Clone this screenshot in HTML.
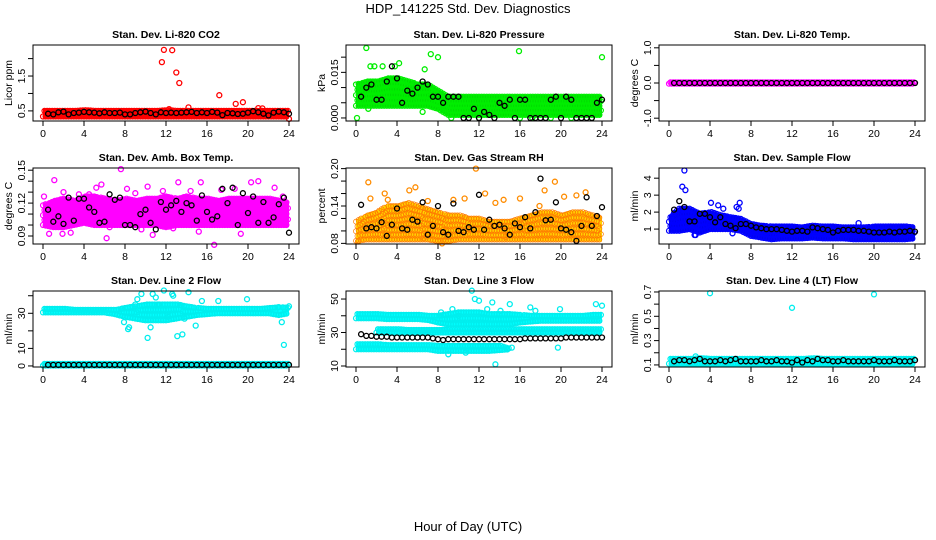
<!DOCTYPE html>
<html><head><meta charset="utf-8"><style>
body{margin:0;background:#fff}
svg{display:block;font-family:"Liberation Sans",sans-serif}
</style></head><body>
<svg id="chart" width="936" height="540" viewBox="0 0 936 540" xmlns="http://www.w3.org/2000/svg">
<text x="468" y="13" text-anchor="middle" font-size="13">HDP_141225  Std. Dev. Diagnostics</text>
<text x="468" y="531" text-anchor="middle" font-size="13">Hour of Day (UTC)</text>
</svg>
<script>
const hours = [0,1,2,3,4,5,6,7,8,9,10,11,12,13,14,15,16,17,18,19,20,21,22,23,24];
const blackX = [0.5,1,1.5,2,2.5,3,3.5,4,4.5,5,5.5,6,6.5,7,7.5,8,8.5,9,9.5,10,10.5,11,11.5,12,12.5,13,13.5,14,14.5,15,15.5,16,16.5,17,17.5,18,18.5,19,19.5,20,20.5,21,21.5,22,22.5,23,23.5,24];

// Panel 1: CO2
const co2Lo = [0.34,0.34,0.34,0.34,0.34,0.34,0.34,0.34,0.34,0.34,0.34,0.34,0.34,0.34,0.34,0.34,0.34,0.34,0.34,0.34,0.34,0.34,0.34,0.34,0.34];
const co2Hi = [0.5,0.5,0.5,0.5,0.52,0.5,0.5,0.5,0.5,0.5,0.5,0.5,0.52,0.5,0.5,0.5,0.5,0.5,0.5,0.5,0.5,0.5,0.5,0.5,0.5];
const co2OutX = [11.6,11.8,12.6,13.0,13.3,17.2,18.8,19.5,14.2,12.3,21.0,21.4,24.0];
const co2OutY = [1.9,2.25,2.24,1.6,1.3,0.95,0.7,0.75,0.6,0.55,0.58,0.57,0.27];
const co2Black = [0.42,0.40,0.46,0.48,0.40,0.44,0.45,0.47,0.46,0.45,0.43,0.46,0.44,0.44,0.45,0.40,0.40,0.44,0.46,0.48,0.44,0.40,0.46,0.44,0.45,0.44,0.45,0.46,0.47,0.44,0.46,0.44,0.47,0.45,0.38,0.44,0.43,0.41,0.42,0.45,0.49,0.46,0.42,0.37,0.45,0.48,0.46,0.42];

// Panel 2: Pressure
const prLo = [0.004,0.004,0.004,0.004,0.004,0.004,0.004,0.004,0.003,0.001,0.001,0.001,0.001,0.001,0.001,0.001,0.001,0.001,0.001,0.001,0.001,0.001,0.001,0.001,0.001];
const prHi = [0.011,0.012,0.012,0.013,0.013,0.012,0.011,0.011,0.009,0.007,0.007,0.007,0.007,0.007,0.007,0.007,0.007,0.007,0.007,0.007,0.007,0.007,0.007,0.007,0.007];
const prOutX = [1.0,1.4,1.8,2.6,4.2,3.8,7.3,8.0,15.9,24.0,6.7,1.2,6.5,0.1,9.3,12,16,17.2,19,21,23];
const prOutY = [0.023,0.017,0.017,0.017,0.018,0.017,0.021,0.020,0.022,0.020,0.016,0.003,0.002,0.0,0.0,0.0,0.0,0.0,0.0,0.0,0.0];
const prBlack = [0.007,0.010,0.011,0.006,0.006,0.012,0.017,0.013,0.005,0.009,0.008,0.010,0.012,0.011,0.007,0.007,0.005,0.007,0.007,0.007,0.0,0.0,0.003,0.0,0.002,0.001,0.0,0.005,0.004,0.006,0.0,0.006,0.006,0.0,0.0,0.0,0.0,0.006,0.007,0.0,0.007,0.006,0.0,0.0,0.0,0.0,0.005,0.006];

// Panel 3: Li-820 Temp
const tmpLo = [-0.02,-0.02,-0.02,-0.02,-0.02,-0.02,-0.02,-0.02,-0.02,-0.02,-0.02,-0.02,-0.02,-0.02,-0.02,-0.02,-0.02,-0.02,-0.02,-0.02,-0.02,-0.02,-0.02,-0.02,-0.02];
const tmpHi = [0.02,0.02,0.02,0.02,0.02,0.02,0.02,0.02,0.02,0.02,0.02,0.02,0.02,0.02,0.02,0.02,0.02,0.02,0.02,0.02,0.02,0.02,0.02,0.02,0.02];
const tmpBlack = [0,0,0,0,0,0,0,0,0,0,0,0,0,0,0,0,0,0,0,0,0,0,0,0,0,0,0,0,0,0,0,0,0,0,0,0,0,0,0,0,0,0,0,0,0,0,0,0];

// Panel 4: Amb Box Temp
const ambLo = [0.100,0.098,0.098,0.100,0.102,0.100,0.100,0.100,0.100,0.100,0.100,0.100,0.098,0.100,0.100,0.100,0.100,0.100,0.100,0.100,0.100,0.100,0.100,0.100,0.100];
const ambHi = [0.118,0.122,0.124,0.122,0.126,0.126,0.124,0.122,0.124,0.122,0.124,0.124,0.126,0.124,0.126,0.124,0.124,0.122,0.124,0.124,0.124,0.124,0.124,0.122,0.120];
const ambOutX = [0.1,1.1,0.6,2.0,2.7,3.5,5.2,5.7,6.2,7.6,8.2,9.0,10.2,11.7,13.2,14.4,15.4,15.2,16.7,17.4,19.3,20.3,21.0,22.6,23.4,1.9,4.5,9.6,12.7,18.7,6.5,10.7];
const ambOutY = [0.126,0.141,0.092,0.130,0.093,0.128,0.134,0.137,0.088,0.151,0.133,0.129,0.135,0.131,0.139,0.131,0.139,0.094,0.082,0.132,0.092,0.139,0.140,0.134,0.126,0.092,0.128,0.096,0.097,0.133,0.098,0.091];
const ambBlack = [0.114,0.103,0.108,0.101,0.125,0.104,0.124,0.124,0.116,0.112,0.102,0.103,0.128,0.123,0.125,0.100,0.100,0.098,0.110,0.114,0.102,0.096,0.121,0.114,0.118,0.122,0.112,0.120,0.118,0.104,0.127,0.112,0.105,0.108,0.133,0.120,0.134,0.100,0.129,0.111,0.126,0.102,0.121,0.102,0.107,0.119,0.125,0.093];

// Panel 5: Gas Stream RH
const rhLo = [0.084,0.086,0.086,0.086,0.086,0.086,0.086,0.086,0.084,0.084,0.086,0.086,0.086,0.086,0.086,0.086,0.086,0.086,0.086,0.086,0.086,0.086,0.086,0.086,0.086];
const rhHi = [0.115,0.125,0.13,0.14,0.14,0.145,0.14,0.135,0.13,0.125,0.125,0.12,0.12,0.115,0.115,0.115,0.12,0.125,0.13,0.13,0.125,0.13,0.13,0.125,0.12];
const rhOutX = [0.2,1.2,1.4,3.1,5.2,5.8,7.0,8.4,9.5,10.6,11.7,12.6,13.6,14.4,16.0,17.9,18.4,19.4,20.3,21.5,22.4,14.6,6.6,2.8];
const rhOutY = [0.083,0.178,0.152,0.150,0.165,0.170,0.148,0.080,0.150,0.152,0.200,0.160,0.145,0.150,0.152,0.140,0.165,0.179,0.155,0.157,0.162,0.090,0.088,0.160];
const rhBlack = [0.142,0.104,0.106,0.104,0.114,0.092,0.110,0.136,0.104,0.102,0.118,0.115,0.146,0.094,0.108,0.140,0.098,0.094,0.144,0.100,0.098,0.106,0.102,0.158,0.102,0.118,0.108,0.110,0.104,0.094,0.112,0.106,0.122,0.104,0.130,0.184,0.117,0.118,0.146,0.104,0.102,0.098,0.084,0.108,0.154,0.108,0.124,0.138];

// Panel 6: Sample Flow
const sfLo = [0.9,0.9,1.0,0.8,1.0,1.0,1.0,0.9,0.6,0.5,0.4,0.45,0.45,0.45,0.5,0.45,0.45,0.45,0.4,0.4,0.4,0.4,0.4,0.4,0.45];
const sfHi = [1.7,2.2,2.2,1.9,2.0,1.8,1.7,1.6,1.3,1.2,1.15,1.15,1.15,1.1,1.2,1.15,1.15,1.1,1.1,1.1,1.15,1.15,1.15,1.15,1.1];
const sfOutX = [0.5,1.3,1.6,1.5,2.6,4.1,4.8,5.3,6.6,6.9,6.2,18.5,2.5,6.8];
const sfOutY = [0.95,3.5,3.3,4.45,0.65,2.55,2.4,2.2,2.3,2.55,0.75,1.35,0.65,2.2];
const sfBlack = [2.15,2.65,2.3,1.45,1.45,1.9,1.9,1.7,1.4,1.7,1.3,1.2,1.05,1.3,1.3,1.2,1.1,1.05,1.0,1.0,1.0,0.95,0.9,0.85,0.9,0.9,0.85,1.1,1.05,1.0,0.95,0.8,0.9,0.95,0.95,0.95,0.9,0.9,0.85,0.8,0.8,0.8,0.85,0.8,0.85,0.85,0.9,0.85];

// Panel 7: Line 2 Flow
const l2Lo = [30.5,30.5,30.5,30.5,30.5,30.5,30.5,29.5,28,27,26,26,26,27,28,29,29.5,30,30,30,30,30,30,29,30];
const l2Hi = [32.5,32.5,32.5,32,32,32,32,32,33,34,35,35,35,35,34,33,32.5,32.5,32.5,32.5,32.5,32.5,33,33.5,33];
const l2LowLo = [0.2,0.2,0.2,0.2,0.2,0.2,0.2,0.2,0.2,0.2,0.2,0.2,0.2,0.2,0.2,0.2,0.2,0.2,0.2,0.2,0.2,0.2,0.2,0.2,0.2];
const l2LowHi = [1.2,1.2,1.2,1.2,1.2,1.2,1.2,1.2,1.2,1.2,1.2,1.2,1.2,1.2,1.2,1.2,1.2,1.2,1.2,1.2,1.2,1.2,1.2,1.2,1.2];
const l2OutX = [7.9,8.3,9.2,9.6,10.2,10.5,10.7,11.0,11.8,12.2,12.7,13.1,13.6,14.2,14.9,15.5,17.1,19.9,23.3,23.5,24,8.4,11.3,12.6,13.8,9.0];
const l2OutY = [25,21,38,41,16,22,41,39,43,28,40,17,18,42,23,37,37,38,25,12,34,22,35,41,27,35];
const l2Black = [0.6,0.6,0.6,0.6,0.6,0.6,0.6,0.6,0.6,0.6,0.6,0.6,0.6,0.6,0.6,0.6,0.6,0.6,0.6,0.6,0.6,0.6,0.6,0.6,0.6,0.6,0.6,0.6,0.6,0.6,0.6,0.6,0.6,0.6,0.6,0.6,0.6,0.6,0.6,0.6,0.6,0.6,0.6,0.6,0.6,0.6,0.6,0.6];

// Panel 8: Line 3 Flow
const l3UpLo = [38.5,38.5,38.5,38,38,38,38,37.5,36,35,35,35,35,35,35,35,36,36.5,37,37,37,37,37,37,37];
const l3UpHi = [41,41,41,40.5,40.5,40.5,40.5,40,40,41,42,42,42,41,41,41,40.5,40,40,40,40,40,40,40.5,40.5];
const l3MidLo = [30,30,30,30,30,30,30,30,30,30,30,30,30,30,30,30,30,30,30,30,30,30,30,30,30];
const l3MidHi = [30,30,32,32,32,31.5,31.5,31.5,31.5,32,32,32,32,32,32,32,32,32,32,32,32,32,32,32,32];
const l3LowLo = [20,20,20,20,20,20,20,20,19,19,19,19,19,19,19.5,20,20,20,20,20,20,20,20,20,20];
const l3LowHi = [23,23,23,22.5,22.5,22.5,22.5,22.5,22,22,22,22,22,22,22,20,20,20,20,20,20,20,20,20,20];
const l3OutX = [8.3,9.4,10.0,10.7,11.3,11.6,12.0,12.8,13.3,13.6,14.1,15.0,17.0,19.9,23.4,24.0,10.5,9.0,15.2,17.5,19.7];
const l3OutY = [42,44,40,18,55,50,49,44,48,11,43,47,45,44,47,46,35,17,21,43,21];
const l3Black = [29,28,28,27.5,27.5,27.5,27,27,27,27,27,27,27,27,26.5,26,25.5,26,26,26,26,26,26,26,26,26,26,26,26,26,26,26,26.5,26.5,26.5,26.5,26.5,26.5,26.5,26.5,27,27,27,27,27,27,27,27];

// Panel 9: Line 4 (LT) Flow
const l4Lo = [0.11,0.11,0.11,0.11,0.11,0.11,0.11,0.11,0.11,0.11,0.11,0.11,0.11,0.11,0.11,0.11,0.11,0.11,0.11,0.11,0.11,0.11,0.11,0.11,0.11];
const l4Hi = [0.15,0.15,0.15,0.155,0.15,0.15,0.15,0.15,0.15,0.15,0.15,0.15,0.15,0.15,0.155,0.15,0.15,0.15,0.15,0.15,0.15,0.15,0.15,0.15,0.15];
const l4OutX = [4.0,12.0,20.0,2.6];
const l4OutY = [0.69,0.57,0.68,0.17];
const l4Black = [0.13,0.14,0.14,0.13,0.14,0.15,0.13,0.13,0.13,0.14,0.13,0.14,0.15,0.13,0.13,0.13,0.13,0.14,0.13,0.13,0.14,0.13,0.13,0.12,0.14,0.12,0.14,0.13,0.15,0.14,0.14,0.13,0.13,0.14,0.13,0.13,0.13,0.13,0.13,0.14,0.13,0.13,0.13,0.14,0.13,0.13,0.13,0.14];

const xTicks = [0,4,8,12,16,20,24];

const panels = [
 {name:'co2',title:'Stan. Dev. Li-820 CO2',ylab:'Licor ppm',col:0,row:0,ymin:0.21,ymax:2.39,ticks:[0.5,1,1.5,2],labels:['0.5','','1.5',''],
  bands:[{lo:co2Lo,hi:co2Hi,fill:'#ff0000',stroke:'#ff0000',sw:1.2}],ox:co2OutX,oy:co2OutY,oc:'#ff0000',black:co2Black},
 {name:'pressure',title:'Stan. Dev. Li-820 Pressure',ylab:'kPa',col:1,row:0,ymin:-0.001,ymax:0.024,ticks:[0,0.005,0.01,0.015,0.02],labels:['0.000','','','0.015',''],
  bands:[{lo:prLo,hi:prHi,fill:'#00dd00',stroke:'#00ee00',sw:1.2}],ox:prOutX,oy:prOutY,oc:'#00ee00',black:prBlack},
 {name:'li820-temp',title:'Stan. Dev. Li-820 Temp.',ylab:'degrees C',col:2,row:0,ymin:-1.08,ymax:1.08,ticks:[-1,-0.5,0,0.5,1],labels:['-1.0','','0.0','','1.0'],
  bands:[{lo:tmpLo,hi:tmpHi,fill:'#ff00ff',stroke:'#ff00ff',sw:1.2}],ox:[],oy:[],oc:'#ff00ff',black:tmpBlack},
 {name:'amb-box-temp',title:'Stan. Dev. Amb. Box Temp.',ylab:'degrees C',col:0,row:1,ymin:0.0827,ymax:0.152,ticks:[0.09,0.10,0.11,0.12,0.13,0.14,0.15],labels:['0.09','','','0.12','','','0.15'],
  bands:[{lo:ambLo,hi:ambHi,fill:'#ff00ff',stroke:'#ff00ff',sw:1.2}],ox:ambOutX,oy:ambOutY,oc:'#ff00ff',black:ambBlack},
 {name:'gas-stream-rh',title:'Stan. Dev. Gas Stream RH',ylab:'percent',col:1,row:1,ymin:0.079,ymax:0.201,ticks:[0.08,0.10,0.12,0.14,0.16,0.18,0.20],labels:['0.08','','','0.14','','','0.20'],
  bands:[{lo:rhLo,hi:rhHi,fill:'#ffd400',stroke:'#ff7a00',sw:0.7}],ox:rhOutX,oy:rhOutY,oc:'#ff8c00',black:rhBlack},
 {name:'sample-flow',title:'Stan. Dev. Sample Flow',ylab:'ml/min',col:2,row:1,ymin:0.12,ymax:4.6,ticks:[1,2,3,4],labels:['1','2','3','4'],
  bands:[{lo:sfLo,hi:sfHi,fill:'#0000ee',stroke:'#0000ff',sw:1.2}],ox:sfOutX,oy:sfOutY,oc:'#0000ff',black:sfBlack},
 {name:'line2-flow',title:'Stan. Dev. Line 2 Flow',ylab:'ml/min',col:0,row:2,ymin:-0.6,ymax:42.7,ticks:[0,10,20,30,40],labels:['0','10','','30',''],
  bands:[{lo:l2Lo,hi:l2Hi,fill:'#00ffff',stroke:'#00eeee',sw:1.2},{lo:l2LowLo,hi:l2LowHi,fill:'#00ffff',stroke:'#00eeee',sw:1.2}],ox:l2OutX,oy:l2OutY,oc:'#00eeee',black:l2Black},
 {name:'line3-flow',title:'Stan. Dev. Line 3 Flow',ylab:'ml/min',col:1,row:2,ymin:9.4,ymax:54.8,ticks:[10,20,30,40,50],labels:['10','','30','','50'],
  bands:[{lo:l3UpLo,hi:l3UpHi,fill:'#00ffff',stroke:'#00eeee',sw:1.2},{lo:l3MidLo,hi:l3MidHi,fill:'#00ffff',stroke:'#00eeee',sw:1.2,from:2},{lo:l3LowLo,hi:l3LowHi,fill:'#00ffff',stroke:'#00eeee',sw:1.2,to:15}],ox:l3OutX,oy:l3OutY,oc:'#00eeee',black:l3Black},
 {name:'line4-flow',title:'Stan. Dev. Line 4 (LT) Flow',ylab:'ml/min',col:2,row:2,ymin:0.083,ymax:0.708,ticks:[0.1,0.2,0.3,0.4,0.5,0.6,0.7],labels:['0.1','','0.3','','0.5','','0.7'],
  bands:[{lo:l4Lo,hi:l4Hi,fill:'#00ffff',stroke:'#00eeee',sw:1.2}],ox:l4OutX,oy:l4OutY,oc:'#00eeee',black:l4Black}
];

const NS='http://www.w3.org/2000/svg';
const svg=document.getElementById('chart');
const colLeft=[33,346,659], rowTop=[45,168,291], PW=266, PH=76;
function mk(tag,attrs,parent){const e=document.createElementNS(NS,tag);for(const k in attrs)e.setAttribute(k,attrs[k]);parent.appendChild(e);return e;}
function circ(g,cx,cy,color,sw){return mk('circle',{cx:cx.toFixed(1),cy:cy.toFixed(1),r:2.5,fill:'none',stroke:color,'stroke-width':sw||1.3},g);}

panels.forEach(p=>{
  const L=colLeft[p.col], T=rowTop[p.row];
  const xs=h=>L+10+h*(PW-20)/24;
  const ys=v=>T+PH-(v-p.ymin)/(p.ymax-p.ymin)*PH;
  const g=mk('g',{},svg);
  
  
  const t=mk('text',{x:L+PW/2,y:T-7,'text-anchor':'middle','font-size':10.5,'font-weight':'bold'},g);
  t.textContent=p.title;
  
  
  const yl=mk('text',{transform:`translate(${L-21},${T+PH/2}) rotate(-90)`,'text-anchor':'middle','font-size':10.5},g);
  yl.textContent=p.ylab;
  
  
  const marks=mk('g',{},g);
  
  
  p.bands.forEach(b=>{
    const i0=b.from||0, i1=(b.to===undefined?hours.length-1:b.to);
    let pts=[];
    for(let i=i0;i<=i1;i++)pts.push(xs(hours[i]).toFixed(1)+','+(ys(b.hi[i])-2).toFixed(1));
    for(let i=i1;i>=i0;i--)pts.push(xs(hours[i]).toFixed(1)+','+(ys(b.lo[i])+2).toFixed(1));
    const poly=mk('polygon',{points:pts.join(' '),fill:b.fill},marks);
    
    
    for(let i=i0;i<i1;i++){
      for(let s=0;s<4;s++){
        const h=hours[i]+s*0.25, f=s/4;
        const lo=b.lo[i]+(b.lo[i+1]-b.lo[i])*f, hi=b.hi[i]+(b.hi[i+1]-b.hi[i])*f;
        const yA=ys(lo), yB=ys(hi);
        const n=Math.max(1,Math.round((yA-yB)/5));
        for(let k=0;k<=n;k++){circ(marks,xs(h)+(k%2)*1.5,yA+(yB-yA)*k/n,b.stroke,b.sw);}
      }
    }
  });
  p.ox.forEach((x,i)=>{const c=circ(marks,xs(x),ys(p.oy[i]),p.oc);
    
    });
  p.black.forEach((v,i)=>{const c=circ(marks,xs(blackX[i]),ys(v),'#000');
    
    });
  mk('rect',{x:L,y:T,width:PW,height:PH,fill:'none',stroke:'#000','stroke-width':1},g);
  const ax=mk('g',{},g);
  
  
  mk('line',{x1:xs(0),x2:xs(24),y1:T+PH,y2:T+PH,stroke:'#000'},ax);
  xTicks.forEach(h=>{
    mk('line',{x1:xs(h),x2:xs(h),y1:T+PH,y2:T+PH+5,stroke:'#000'},ax);
    const tl=mk('text',{x:xs(h),y:T+PH+16,'text-anchor':'middle','font-size':10.5},ax);
    tl.textContent=h;
  });
  const ay=mk('g',{},g);
  
  
  mk('line',{x1:L,x2:L,y1:ys(p.ticks[0]),y2:ys(p.ticks[p.ticks.length-1]),stroke:'#000'},ay);
  p.ticks.forEach((v,i)=>{
    mk('line',{x1:L-5,x2:L,y1:ys(v),y2:ys(v),stroke:'#000'},ay);
    if(p.labels[i]){const tl=mk('text',{transform:`translate(${L-8},${ys(v)}) rotate(-90)`,'text-anchor':'middle','font-size':10.5},ay);tl.textContent=p.labels[i];}
  });
});
</script>
</body></html>
